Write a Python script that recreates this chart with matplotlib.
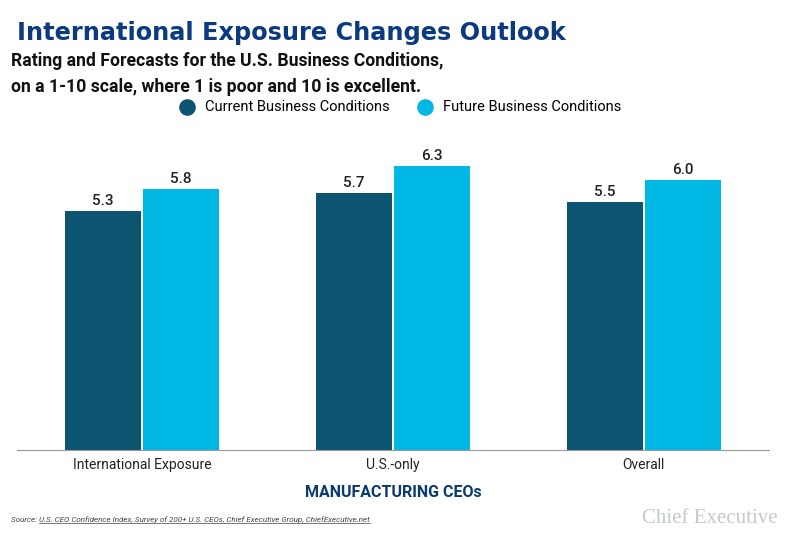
import matplotlib.pyplot as plt
from matplotlib.lines import Line2D
import numpy as np

categories = ["International Exposure", "U.S.-only", "Overall"]
current = [5.3, 5.7, 5.5]
future = [5.8, 6.3, 6.0]
series_names = ["Current Business Conditions", "Future Business Conditions"]

dark = "#0d5470"
light = "#00b8e4"
navy = "#0b3a80"

plt.rcParams["font.family"] = ["Roboto", "DejaVu Sans"]

fig = plt.figure(figsize=(7.89, 5.37), dpi=100)
ax = fig.add_axes([0.021, 0.162, 0.954, 0.587])

x = np.arange(len(categories))
w = 0.302
b1 = ax.bar(x - 0.155, current, w, color=dark)
b2 = ax.bar(x + 0.155, future, w, color=light)

for bars in (b1, b2):
    for r in bars:
        ax.text(r.get_x() + r.get_width() / 2, r.get_height() + 0.07, f"{r.get_height():.1f}",
                ha="center", va="bottom", fontsize=11, fontweight="medium", color="#222222")

ax.set_xlim(-0.5, 2.5)
ax.set_ylim(0, 7)
ax.set_xticks(x)
ax.set_xticklabels(categories, fontsize=10, color="#222222")
ax.tick_params(axis="x", length=0, pad=6)
ax.set_yticks([])
for s in ["top", "left", "right"]:
    ax.spines[s].set_visible(False)
ax.spines["bottom"].set_color("#999999")
ax.set_xlabel("MANUFACTURING CEOs", fontsize=11.5, fontweight="bold", color="#0b3a6e", labelpad=9)

fig.text(0.022, 0.938, "International Exposure Changes Outlook", fontsize=17.3, fontweight="heavy",
         color=navy, va="center", family=["DejaVu Sans"])
fig.text(0.014, 0.886, "Rating and Forecasts for the U.S. Business Conditions,", fontsize=12.7,
         fontweight="bold", color="#111111", va="center")
fig.text(0.014, 0.838, "on a 1-10 scale, where 1 is poor and 10 is excellent.", fontsize=12.7,
         fontweight="bold", color="#111111", va="center")

# legend
ax.scatter([], [], s=120, color=dark, label=series_names[0])
ax.scatter([], [], s=120, color=light, label=series_names[1])
fig.legend(loc="center", bbox_to_anchor=(0.503, 0.801), ncol=2, frameon=False, fontsize=10.5,
           handletextpad=0.25, columnspacing=1.4, borderaxespad=0)

src1 = fig.text(0.014, 0.032, "Source: ", fontsize=5.8, style="italic", color="#444444", va="center")
fig.canvas.draw()
r = fig.canvas.get_renderer()
bb = src1.get_window_extent(r)
src2 = fig.text(bb.x1 / fig.bbox.width, 0.032,
                "U.S. CEO Confidence Index, Survey of 200+ U.S. CEOs, Chief Executive Group, ChiefExecutive.net",
                fontsize=5.8, style="italic", color="#444444", va="center")
bb2 = src2.get_window_extent(r)
yline = (bb2.y0 + 0.5) / fig.bbox.height
fig.add_artist(Line2D([bb2.x0 / fig.bbox.width, bb2.x1 / fig.bbox.width], [yline, yline],
                      color="#444444", lw=0.5))

fig.text(0.986, 0.034, "Chief Executive", fontsize=15, family=["Liberation Serif"], color="#c4c9d0",
         ha="right", va="center")

fig.savefig("out.png", dpi=100)
